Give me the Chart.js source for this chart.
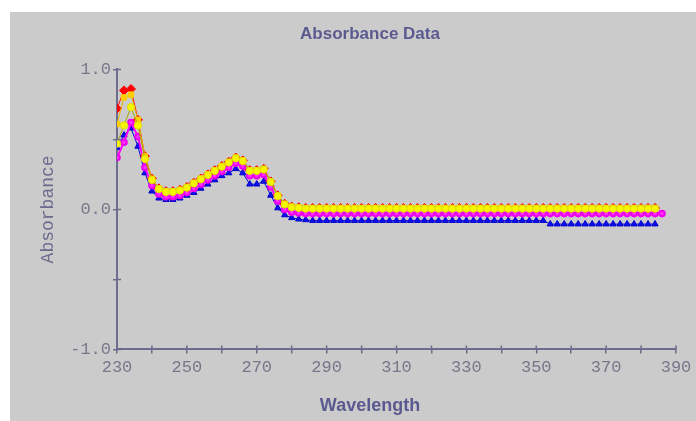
<!DOCTYPE html>
<html>
<head>
<meta charset="utf-8">
<script src="https://cdn.jsdelivr.net/npm/chart.js@4.4.1/dist/chart.umd.min.js"></script>
<style>
  html, body { margin: 0; padding: 0; background: #ffffff; overflow: hidden; }
  #wrap { position: absolute; left: 0; top: 0; width: 696px; height: 421px; }
</style>
</head>
<body>
<div id="wrap"><canvas id="c" width="696" height="421"></canvas></div>
<script>
// ---- data ----
const wavelengths = [230,232,234,236,238,240,242,244,246,248,250,252,254,256,258,260,262,264,266,268,270,272,274,276,278,280,282,284,286,288,290,292,294,296,298,300,302,304,306,308,310,312,314,316,318,320,322,324,326,328,330,332,334,336,338,340,342,344,346,348,350,352,354,356,358,360,362,364,366,368,370,372,374,376,378,380,382,384,386];

const seriesOrange = [0.61,0.80,0.82,0.64,0.38,0.22,0.15,0.13,0.13,0.14,0.16,0.19,0.22,0.25,0.28,0.31,0.34,0.37,0.35,0.28,0.28,0.29,0.20,0.10,0.04,0.02,0.015,0.01,
  0.01,0.01,0.01,0.01,0.01,0.01,0.01,0.01,0.01,0.01,0.01,0.01,0.01,0.01,0.01,0.01,0.01,0.01,0.01,0.01,0.01,0.01,0.01,0.01,0.01,0.01,0.01,0.01,0.01,0.01,0.01,0.01,0.01,0.01,0.01,0.01,0.01,0.01,0.01,0.01,0.01,0.01,0.01,0.01,0.01,0.01,0.01,0.01,0.01,0.01,null];

const seriesYellow = [0.47,0.60,0.73,0.60,0.36,0.21,0.145,0.125,0.125,0.135,0.155,0.185,0.215,0.245,0.275,0.305,0.335,0.365,0.345,0.275,0.275,0.285,0.195,0.095,0.035,0.015,0.01,0.005,
  0.005,0.005,0.005,0.005,0.005,0.005,0.005,0.005,0.005,0.005,0.005,0.005,0.005,0.005,0.005,0.005,0.005,0.005,0.005,0.005,0.005,0.005,0.005,0.005,0.005,0.005,0.005,0.005,0.005,0.005,0.005,0.005,0.005,0.005,0.005,0.005,0.005,0.005,0.005,0.005,0.005,0.005,0.005,0.005,0.005,0.005,0.005,0.005,0.005,0.005,null];

const seriesRed = [0.72,0.85,0.86,0.64,0.38,0.22,0.15,0.13,0.13,0.14,0.16,0.19,0.22,0.25,0.28,0.31,0.34,0.37,0.35,0.28,0.28,0.29,0.20,0.10,0.04,0.02,0.015,0.01,
  0.01,0.01,0.01,0.01,0.01,0.01,0.01,0.01,0.01,0.01,0.01,0.01,0.01,0.01,0.01,0.01,0.01,0.01,0.01,0.01,0.01,0.01,0.01,0.01,0.01,0.01,0.01,0.01,0.01,0.01,0.01,0.01,0.01,0.01,0.01,0.01,0.01,0.01,0.01,0.01,0.01,0.01,0.01,0.01,0.01,0.01,0.01,0.01,0.01,0.01,null];

const seriesMagenta = [0.37,0.48,0.62,0.52,0.30,0.17,0.11,0.09,0.09,0.10,0.12,0.15,0.18,0.21,0.24,0.27,0.30,0.33,0.31,0.24,0.24,0.25,0.16,0.06,0.00,-0.02,-0.025,-0.03,
  -0.03,-0.03,-0.03,-0.03,-0.03,-0.03,-0.03,-0.03,-0.03,-0.03,-0.03,-0.03,-0.03,-0.03,-0.03,-0.03,-0.03,-0.03,-0.03,-0.03,-0.03,-0.03,-0.03,-0.03,-0.03,-0.03,-0.03,-0.03,-0.03,-0.03,-0.03,-0.03,-0.03,-0.03,-0.03,-0.03,-0.03,-0.03,-0.03,-0.03,-0.03,-0.03,-0.03,-0.03,-0.03,-0.03,-0.03,-0.03,-0.03,-0.03,-0.03];

const seriesBlue = [0.44,0.53,0.58,0.45,0.26,0.13,0.08,0.07,0.07,0.08,0.10,0.12,0.15,0.18,0.21,0.24,0.26,0.29,0.26,0.18,0.18,0.20,0.10,0.01,-0.04,-0.06,-0.07,-0.075,
  -0.08,-0.08,-0.08,-0.08,-0.08,-0.08,-0.08,-0.08,-0.08,-0.08,-0.08,-0.08,-0.08,-0.08,-0.08,-0.08,-0.08,-0.08,-0.08,-0.08,-0.08,-0.08,-0.08,-0.08,-0.08,-0.08,-0.08,-0.08,-0.08,-0.08,-0.08,-0.08,-0.08,-0.08,
  -0.105,-0.105,-0.105,-0.105,-0.105,-0.105,-0.105,-0.105,-0.105,-0.105,-0.105,-0.105,-0.105,-0.105,-0.105,-0.105,null];

const xTickLabels = [230,250,270,290,310,330,350,370,390];
const yTickLabels = [-1.0, 0.0, 1.0];

const chartTitle = 'Absorbance Data';
const xTitle = 'Wavelength';
const yTitle = 'Absorbance';

// ---- styling ----
const AXIS = '#6c6c8e';
const TICKTXT = '#77778a';
const TITLECOL = '#5a5a90';
const BG = '#cbcbcb';

function pts(arr) { return wavelengths.map((w, i) => ({ x: w, y: arr[i] })); }

const bgPlugin = {
  id: 'bg',
  beforeDraw(chart) {
    const ctx = chart.ctx;
    ctx.save();
    ctx.fillStyle = BG;
    ctx.fillRect(10, 12, chart.width - 10, chart.height - 12);
    ctx.restore();
  }
};

// inner half of the tick marks (ticks cross the axis line)
const innerTicks = {
  id: 'innerTicks',
  afterDatasetsDraw(chart) {
    const ctx = chart.ctx;
    const xs = chart.scales.x, ys = chart.scales.y;
    const a = chart.chartArea;
    ctx.save();
    ctx.strokeStyle = AXIS;
    ctx.lineWidth = 1.5;
    ctx.beginPath();
    xs.ticks.forEach(t => { const px = xs.getPixelForValue(t.value); ctx.moveTo(px, a.bottom); ctx.lineTo(px, a.bottom - 4); });
    ys.ticks.forEach(t => { const py = ys.getPixelForValue(t.value); ctx.moveTo(a.left, py); ctx.lineTo(a.left + 4, py); });
    ctx.stroke();
    ctx.restore();
  }
};

const tickFont = { family: '"Liberation Mono", "DejaVu Sans Mono", monospace', size: 17 };
const titleFont = { family: '"Liberation Sans Narrow", "Arial Narrow", "Liberation Sans", sans-serif', size: 17, weight: 'bold' };

new Chart(document.getElementById('c'), {
  type: 'line',
  data: {
    datasets: [
      { label: 'S2', data: pts(seriesYellow), borderColor: '#a8a800', backgroundColor: '#ffff00', pointBackgroundColor: '#f6f600', pointBorderColor: '#e0e000', pointStyle: 'circle', pointRadius: 3.6, borderWidth: 1 },
      { label: 'S1', data: pts(seriesOrange), borderColor: '#e8b800', backgroundColor: '#ffcc00', pointBackgroundColor: '#ffcc00', pointBorderColor: '#ffcc00', pointStyle: 'rect', pointRadius: 3.8, borderWidth: 1 },
      { label: 'S3', data: pts(seriesRed), borderColor: '#ff0000', backgroundColor: '#ff0000', pointBackgroundColor: '#ff0000', pointBorderColor: '#ff0000', pointStyle: 'rectRot', pointRadius: 4.5, borderWidth: 1 },
      { label: 'S4', data: pts(seriesMagenta), borderColor: '#ff00ff', backgroundColor: '#ff00ff', pointBackgroundColor: '#ff33ff', pointBorderColor: '#ee00ee', pointStyle: 'circle', pointRadius: 2.8, borderWidth: 2 },
      { label: 'S5', data: pts(seriesBlue), borderColor: '#0000dd', backgroundColor: '#0000ff', pointBackgroundColor: '#1010ee', pointBorderColor: '#0000cc', pointStyle: 'triangle', pointRadius: 3.6, borderWidth: 1 }
    ]
  },
  plugins: [bgPlugin, innerTicks],
  options: {
    responsive: false,
    animation: false,
    events: [],
    layout: { padding: { left: 64, right: 20, top: 12, bottom: 0 } },
    plugins: {
      legend: { display: false },
      tooltip: { enabled: false },
      title: { display: true, text: chartTitle, color: TITLECOL, font: titleFont, padding: { top: 12, bottom: 25 } },
      subtitle: { display: true, text: xTitle, position: 'bottom', color: TITLECOL, font: { family: titleFont.family, size: 18, weight: 'bold' }, padding: { top: 16, bottom: 4 } }
    },
    scales: {
      x: {
        type: 'linear', min: 230, max: 390,
        afterFit(s) { s.height = 30; },
        ticks: {
          stepSize: 10, color: TICKTXT, font: tickFont, padding: 4, maxRotation: 0, autoSkip: false,
          callback: v => xTickLabels.includes(v) ? String(v) : ''
        },
        grid: { drawOnChartArea: false, drawTicks: true, tickLength: 4, color: AXIS, lineWidth: 1.5 },
        border: { display: true, color: AXIS, width: 2 }
      },
      y: {
        type: 'linear', min: -1, max: 1,
        afterFit(s) { s.width = 53; },
        ticks: {
          stepSize: 0.5, color: TICKTXT, font: tickFont, padding: 2,
          callback: v => yTickLabels.includes(v) ? v.toFixed(1) : ''
        },
        title: { display: true, text: yTitle, color: AXIS, font: { family: '"Liberation Mono", "DejaVu Sans Mono", monospace', size: 18 }, padding: { top: -27, bottom: 0 } },
        grid: { drawOnChartArea: false, drawTicks: true, tickLength: 4, color: AXIS, lineWidth: 1.5 },
        border: { display: true, color: AXIS, width: 2 }
      }
    }
  }
});
</script>
</body>
</html>
